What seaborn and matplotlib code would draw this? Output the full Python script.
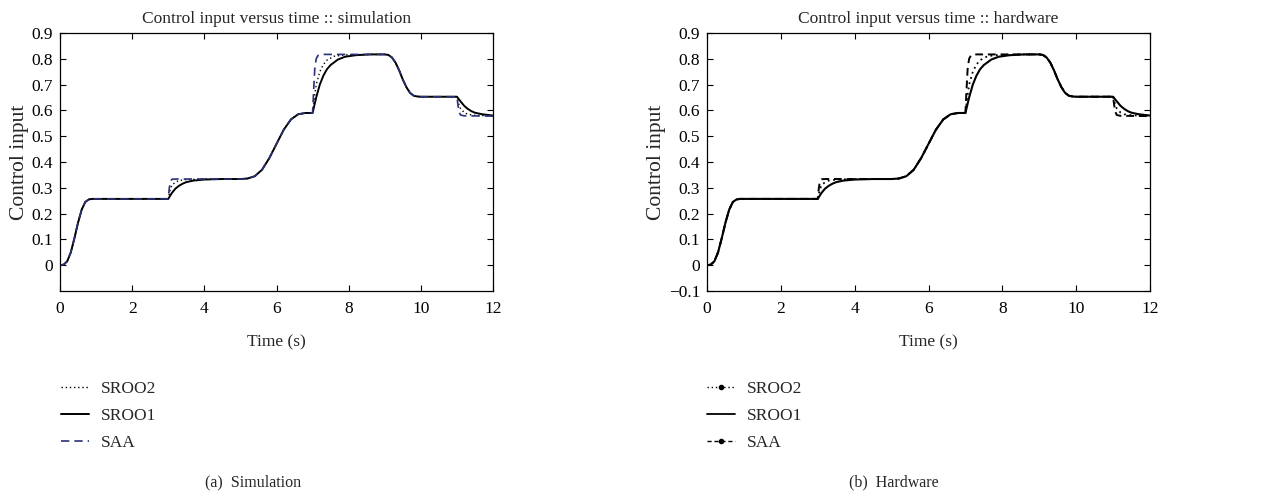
import numpy as np
import pandas as pd
import matplotlib
matplotlib.use("Agg")
import matplotlib.pyplot as plt
from matplotlib.lines import Line2D
import seaborn as sns

# ---------------- data ----------------
# common segments
t_rise1 = [0.0, 0.1, 0.2, 0.3, 0.4, 0.5, 0.6, 0.7, 0.8, 0.9, 2.0, 3.0]
y_rise1 = [0.0, 0.002, 0.015, 0.05, 0.105, 0.165, 0.215, 0.245, 0.255, 0.257, 0.257, 0.257]

t_rise2 = [4.5, 5.0, 5.2, 5.4, 5.6, 5.8, 6.0, 6.2, 6.4, 6.6, 6.8, 7.0]
y_rise2 = [0.334, 0.334, 0.336, 0.345, 0.37, 0.415, 0.47, 0.525, 0.565, 0.585, 0.59, 0.59]

t_fall = [8.6, 9.0, 9.1, 9.2, 9.3, 9.4, 9.5, 9.6, 9.7, 9.8, 9.9, 10.0, 11.0]
y_fall = [0.817, 0.817, 0.815, 0.805, 0.785, 0.755, 0.72, 0.69, 0.668, 0.657, 0.654, 0.653, 0.653]

# step at t=3
t_s3_sroo1 = [3.1, 3.2, 3.3, 3.4, 3.5, 3.7, 4.0]
y_s3_sroo1 = [0.28, 0.297, 0.308, 0.316, 0.322, 0.328, 0.332]
t_s3_sroo2 = [3.05, 3.1, 3.2, 3.3, 3.5, 4.0]
y_s3_sroo2 = [0.29, 0.31, 0.322, 0.328, 0.332, 0.334]
t_s3_saa = [3.03, 3.06, 3.1, 3.2, 4.0]
y_s3_saa = [0.30, 0.325, 0.333, 0.334, 0.334]

# step at t=7
t_s7_sroo1 = [7.05, 7.1, 7.2, 7.3, 7.4, 7.5, 7.7, 7.9, 8.2]
y_s7_sroo1 = [0.62, 0.65, 0.70, 0.735, 0.76, 0.776, 0.797, 0.808, 0.814]
t_s7_sroo2 = [7.05, 7.1, 7.2, 7.3, 7.4, 7.6, 7.9, 8.3]
y_s7_sroo2 = [0.65, 0.70, 0.75, 0.778, 0.795, 0.81, 0.815, 0.816]
t_s7_saa = [7.03, 7.06, 7.1, 7.15, 7.25, 8.0]
y_s7_saa = [0.68, 0.76, 0.80, 0.813, 0.817, 0.817]

# step at t=11
t_s11_sroo1 = [11.1, 11.2, 11.3, 11.4, 11.5, 11.7, 12.0]
y_s11_sroo1 = [0.635, 0.618, 0.606, 0.597, 0.591, 0.585, 0.58]
t_s11_sroo2 = [11.05, 11.1, 11.2, 11.3, 11.5, 12.0]
y_s11_sroo2 = [0.625, 0.607, 0.592, 0.585, 0.581, 0.579]
t_s11_saa = [11.03, 11.06, 11.1, 11.2, 12.0]
y_s11_saa = [0.62, 0.595, 0.582, 0.579, 0.578]

series_names = ["SROO2", "SROO1", "SAA"]
x_ticks = [0, 2, 4, 6, 8, 10, 12]
y_ticks_sim = [0, 0.1, 0.2, 0.3, 0.4, 0.5, 0.6, 0.7, 0.8, 0.9]
y_ticks_hw = [-0.1, 0, 0.1, 0.2, 0.3, 0.4, 0.5, 0.6, 0.7, 0.8, 0.9]


def build(ts3, ys3, ts7, ys7, ts11, ys11):
    t = t_rise1 + ts3 + t_rise2 + ts7 + t_fall + ts11
    y = y_rise1 + ys3 + y_rise2 + ys7 + y_fall + ys11
    return t, y


curves = {
    "SROO2": build(t_s3_sroo2, y_s3_sroo2, t_s7_sroo2, y_s7_sroo2, t_s11_sroo2, y_s11_sroo2),
    "SROO1": build(t_s3_sroo1, y_s3_sroo1, t_s7_sroo1, y_s7_sroo1, t_s11_sroo1, y_s11_sroo1),
    "SAA": build(t_s3_saa, y_s3_saa, t_s7_saa, y_s7_saa, t_s11_saa, y_s11_saa),
}

# ---------------- style ----------------
sns.set_theme(style="white")
plt.rcParams["font.family"] = ["Liberation Serif", "DejaVu Serif"]
plt.rcParams["axes.unicode_minus"] = True
FS = 12.5

fig = plt.figure(figsize=(12.83, 4.96), dpi=100)
W, H = 1283, 496


def axes_px(x0, x1, ytop, ybot):
    return fig.add_axes([x0 / W, 1 - ybot / H, (x1 - x0) / W, (ybot - ytop) / H])


ax1 = axes_px(60, 493, 33, 291)
ax2 = axes_px(707, 1150, 33, 291)

navy = "#2a3175"
styles_sim = {
    "SROO2": dict(color="black", linestyle=(0, (1, 2)), linewidth=1.0),
    "SROO1": dict(color="black", linestyle="-", linewidth=1.4),
    "SAA": dict(color=navy, linestyle=(0, (5, 3)), linewidth=1.2),
}
styles_hw = {
    "SROO2": dict(color="black", linestyle=(0, (1, 2)), linewidth=1.3),
    "SROO1": dict(color="black", linestyle="-", linewidth=1.5),
    "SAA": dict(color="black", linestyle=(0, (4, 2.5)), linewidth=1.4),
}

for ax, styles in ((ax1, styles_sim), (ax2, styles_hw)):
    for name in series_names:
        t, y = curves[name]
        df = pd.DataFrame({"t": t, "y": y})
        sns.lineplot(data=df, x="t", y="y", ax=ax, estimator=None, sort=False,
                     legend=False, **styles[name])

for ax, yt, title in ((ax1, y_ticks_sim, "Control input versus time :: simulation"),
                      (ax2, y_ticks_hw, "Control input versus time :: hardware")):
    ax.set_xlim(0, 12)
    ax.set_ylim(-0.1, 0.9)
    ax.set_xticks(x_ticks)
    ax.set_xticklabels([str(v) for v in x_ticks], fontsize=FS)
    ax.set_yticks(yt)
    ax.set_yticklabels(["0" if v == 0 else ("\u2212%.1f" % -v if v < 0 else "%.1f" % v) for v in yt],
                       fontsize=FS)
    ax.tick_params(axis="x", pad=7)
    ax.tick_params(axis="y", pad=5)
    ax.tick_params(direction="in", top=True, right=True, length=4, width=0.8,
                   colors="black", bottom=True, left=True)
    for s in ax.spines.values():
        s.set_color("black")
        s.set_linewidth(0.9)
    ax.set_xlabel("Time (s)", fontsize=FS, labelpad=13)
    ax.set_ylabel("Control input", fontsize=15.5, labelpad=2)
    ax.set_title(title, fontsize=FS, pad=7)

# legends
h_sim = [Line2D([], [], **styles_sim[n]) for n in series_names]
h_hw = [Line2D([], [], color="black", linestyle=(0, (1, 2)), linewidth=1.0, marker="o", markersize=3),
        Line2D([], [], color="black", linestyle="-", linewidth=1.3),
        Line2D([], [], color="black", linestyle=(0, (3, 2)), linewidth=1.0, marker="o", markersize=3)]

for handles, xpx in ((h_sim, 61), (h_hw, 707)):
    fig.legend(handles, series_names, loc="upper left",
               bbox_to_anchor=(xpx / W, 1 - 381 / H), frameon=False, fontsize=FS,
               handlelength=1.6, handletextpad=0.7, labelspacing=0.62,
               borderpad=0, borderaxespad=0, numpoints=1)

fig.text(253 / W, 1 - 482 / H, "(a)  Simulation", ha="center", va="center", fontsize=FS - 1)
fig.text(894 / W, 1 - 482 / H, "(b)  Hardware", ha="center", va="center", fontsize=FS - 1)

fig.savefig("out.png", dpi=100)
